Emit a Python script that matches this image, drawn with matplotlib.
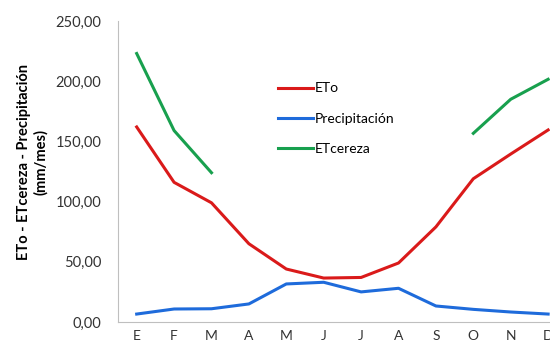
import numpy as np
import matplotlib.pyplot as plt

plt.rcParams['font.family'] = ['Lato', 'DejaVu Sans']

# datos mensuales (mm/mes)
meses = ['E', 'F', 'M', 'A', 'M', 'J', 'J', 'A', 'S', 'O', 'N', 'D']
eto = [162, 116, 99, 65, 44, 36.5, 37, 49, 79, 119, 139.5, 159.5]
precip = [6.6, 10.8, 11, 15, 31.6, 33, 25, 28, 13.3, 10.5, 8.3, 6.6]
etcereza = [223, 159, 124, None, None, None, None, None, None, 156.7, 185, 201.6]

x = np.arange(len(meses))
etc = np.array([np.nan if v is None else v for v in etcereza])

fig = plt.figure(figsize=(5.5, 3.5), dpi=100)
ax = fig.add_axes([0.2145, 0.08, 0.7855, 0.86])

ax.plot(x, eto, color='#DA1A1A', lw=2.2, label='ETo')
ax.plot(x, precip, color='#1E6BDB', lw=2.2, label='Precipitación')
ax.plot(x, etc, color='#18A04E', lw=2.2, label='ETcereza')

ax.set_xlim(-0.5, 11.05)
ax.set_ylim(0, 250)
ax.set_xticks(x)
ax.set_xticklabels(meses, fontsize=10)
ax.set_yticks(np.arange(0, 251, 50))
ax.set_yticklabels([f'{v:.2f}'.replace('.', ',') for v in np.arange(0, 251, 50)], fontsize=10.5)
ax.tick_params(length=0, pad=12, colors='#333333')
ax.tick_params(axis='x', pad=6)

for s in ['top', 'right']:
    ax.spines[s].set_visible(False)
for s in ['left', 'bottom']:
    ax.spines[s].set_color('#BFBFBF')

ax.set_ylabel('ETo - ETcereza - Precipitación\n(mm/mes)', fontsize=10.5, fontweight='bold',
              linespacing=1.25)
ax.yaxis.set_label_coords(-0.162, 0.53)

fig.legend(loc='upper left', bbox_to_anchor=(0.483, 0.8), frameon=False, fontsize=10,
           handlelength=2.5, handletextpad=0.15, labelspacing=1.3)

fig.savefig('out.png', dpi=100)
